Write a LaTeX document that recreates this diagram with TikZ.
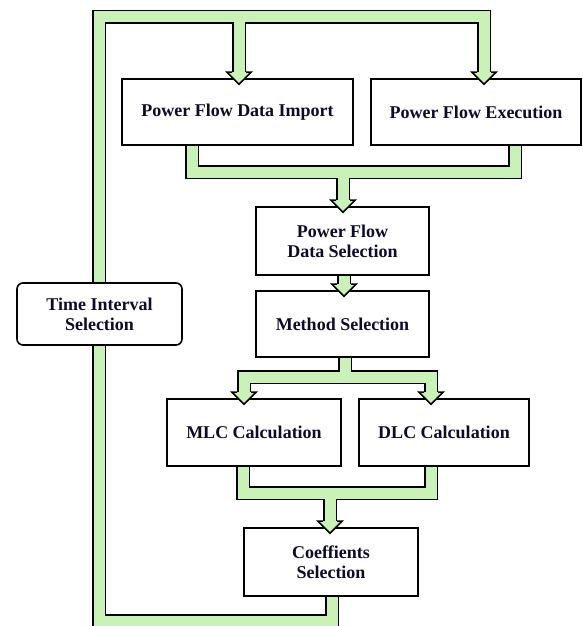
\documentclass[tikz,border=0pt]{standalone}
\usepackage{fontspec}
\setmainfont{Liberation Serif}
\usetikzlibrary{calc,backgrounds}

\definecolor{bandgreen}{RGB}{202,242,184}
\definecolor{inkblue}{RGB}{12,12,40}

\tikzset{
  blk/.style={draw, line width=1.6pt, fill=white, align=center, inner sep=0pt,
    text=inkblue, font=\fontsize{18}{20}\selectfont\bfseries},
  bandout/.style={line width=14pt, black},
  bandin/.style={line width=11pt, bandgreen},
  head/.style={fill=bandgreen, draw=black, line width=1.5pt}
}

% arrow head hanging below a band end
\newcommand{\flowhead}[1]{%
  \filldraw[head] ($(#1)+(-7,0)$) -- ($(#1)+(-12,0)$) -- ($(#1)+(0,12)$)
    -- ($(#1)+(12,0)$) -- ($(#1)+(7,0)$);}

\begin{document}
\begin{tikzpicture}[x=1pt, y=-1pt]
        \useasboundingbox (0,0) rectangle (582,626);

        \node[blk, minimum width=231pt, minimum height=66pt] (imp) at (237.5,112) {Power Flow Data Import};
        \node[blk, minimum width=210pt, minimum height=66pt] (exe) at (476,112) {Power Flow Execution};
        \node[blk, minimum width=173pt, minimum height=68pt] (pfs) at (342.5,241) {Power Flow\\Data Selection};
        \node[blk, minimum width=173pt, minimum height=66pt] (met) at (342.5,324) {Method Selection};
        \node[blk, minimum width=174pt, minimum height=67pt] (mlc) at (254,432.5) {MLC Calculation};
        \node[blk, minimum width=170pt, minimum height=67pt] (dlc) at (444,432.5) {DLC Calculation};
        \node[blk, minimum width=174pt, minimum height=68pt] (coef) at (331,562) {Coeffients\\Selection};
        \node[blk, rounded corners=6pt, minimum width=165pt, minimum height=62pt] (tis) at (99.5,314) {Time Interval\\Selection};

        % band ends
        \coordinate (impin) at ($(imp.north)+(1.5,-6)$);
        \coordinate (exein) at ($(exe.north)+(8,-6)$);
        \coordinate (pfsin) at ($(pfs.north)+(0.5,-6)$);
        \coordinate (metin) at ($(met.north)+(1.5,-6)$);
        \coordinate (mlcin) at ($(mlc.north)+(-10,-6)$);
        \coordinate (dlcin) at ($(dlc.north)+(-13,-6)$);
        \coordinate (coefin) at ($(coef.north)+(-1,-6)$);
        \coordinate (impout) at ($(imp.south)+(-45.5,0)$);
        \coordinate (exeout) at ($(exe.south)+(39,0)$);
        \coordinate (pfsout) at ($(pfs.south)+(1.5,0)$);
        \coordinate (metout) at ($(met.south)+(2.5,0)$);
        \coordinate (mlcout) at ($(mlc.south)+(-11,0)$);
        \coordinate (dlcout) at ($(dlc.south)+(-13,0)$);
        \coordinate (coefout) at ($(coef.south)+(1,0)$);

        % runs
        \coordinate (lowrun) at (99,621);
        \coordinate (toprun) at (99,17);
        \coordinate (imprun) at (0,172);
        \coordinate (metrun) at (0,377);
        \coordinate (calcrun) at (0,493);

        \begin{scope}[on background layer]
        \foreach \sty in {bandout,bandin} {
            \draw[\sty] (coefout) -- (coefout |- lowrun) -- (lowrun) -- (toprun)
                -- (exein |- toprun) -- (exein);
            \draw[\sty] (impin |- toprun) -- (impin);

            \draw[\sty] (impout) -- (impout |- imprun) -- (exeout |- imprun) -- (exeout);
            \draw[\sty] (pfsin |- imprun) -- (pfsin);

            \draw[\sty] (pfsout) -- (metin);

            \draw[\sty] (metout) -- (metout |- metrun);
            \draw[\sty] (mlcin) -- (mlcin |- metrun) -- (dlcin |- metrun) -- (dlcin);

            \draw[\sty] (mlcout) -- (mlcout |- calcrun) -- (dlcout |- calcrun) -- (dlcout);
            \draw[\sty] (coefin |- calcrun) -- (coefin);
        }
        \end{scope}

        \flowhead{impin}
        \flowhead{exein}
        \flowhead{pfsin}
        \flowhead{metin}
        \flowhead{mlcin}
        \flowhead{dlcin}
        \flowhead{coefin}
    \end{tikzpicture}
\end{document}
